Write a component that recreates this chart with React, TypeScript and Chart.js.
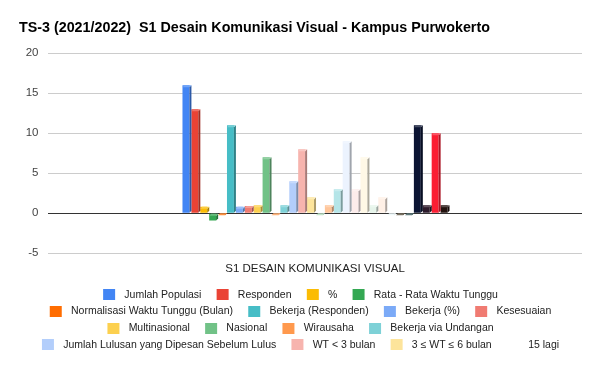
import React, { useEffect, useRef } from "react";
import { Chart, registerables } from "chart.js";

Chart.register(...registerables);

const titleText = "TS-3 (2021/2022)  S1 Desain Komunikasi Visual - Kampus Purwokerto";
const categories = ["S1 DESAIN KOMUNIKASI VISUAL"];

const seriesLabels = [
  "Jumlah Populasi",
  "Responden",
  "%",
  "Rata - Rata Waktu Tunggu",
  "Normalisasi Waktu Tunggu (Bulan)",
  "Bekerja (Responden)",
  "Bekerja (%)",
  "Kesesuaian",
  "Multinasional",
  "Nasional",
  "Wirausaha",
  "Bekerja via Undangan",
  "Jumlah Lulusan yang Dipesan Sebelum Lulus",
  "WT < 3 bulan",
  "3 ≤ WT ≤ 6 bulan",
  "6 < WT ≤ 18 bulan",
  "WT > 18 bulan",
  "Lokal",
  "Kesesuaian Tinggi",
  "Kesesuaian Sedang",
  "Pekerjaan Tetap",
  "Pekerjaan Kontrak",
  "Melanjutkan Studi",
  "Belum Bekerja",
  "Tidak Mencari Kerja",
  "Kesesuaian Rendah",
  "Lulusan Terlacak",
  "Wirausaha (Responden)",
  "Jumlah Pengguna Lulusan",
  "Tanggapan Pengguna",
];

const seriesValues = [
  16, 13, 0.8, -0.9, 0, 11, 0.8, 0.9, 1, 7, 0, 1, 4, 8, 2,
  0, 1, 3, 9, 3, 7, 1, 2, 0, 0, 0, 11, 1, 10, 1,
];

const seriesColors = [
  "#4285f4", "#ea4335", "#fbbc04", "#34a853", "#ff6d01",
  "#46bdc6", "#7baaf7", "#f07b72", "#fcd04f", "#71c287",
  "#ff994d", "#7ed1d7", "#b3cefb", "#f7b4ae", "#fde49b",
  "#aedcba", "#ffc599", "#b5e5e8", "#ecf3fe", "#fdeceb",
  "#fff8e6", "#e6f4ea", "#fff0e6", "#e9f7f8", "#4a3f2a",
  "#27494b", "#0b1433", "#2c1a2b", "#fb1e33", "#22120e",
];

const shownLegendCount = 15;
const moreLabel = "15 lagi";

const yMin = -5;
const yMax = 20;
const yStep = 5;

const FONT = "'Liberation Sans', Arial, sans-serif";

function hexToRgb(hex: string) {
  const h = hex.replace("#", "");
  return [
    parseInt(h.slice(0, 2), 16),
    parseInt(h.slice(2, 4), 16),
    parseInt(h.slice(4, 6), 16),
  ];
}
function shade(hex: string, f: number) {
  const [r, g, b] = hexToRgb(hex);
  return `rgb(${Math.round(r * f)},${Math.round(g * f)},${Math.round(b * f)})`;
}
function tint(hex: string, t: number) {
  const [r, g, b] = hexToRgb(hex);
  const m = (c: number) => Math.round(c + (255 - c) * t);
  return `rgb(${m(r)},${m(g)},${m(b)})`;
}

const LPAD = 9;
const BOX_W = 12;
const BOX_H = 11;
const RPAD = 4;
const SWATCH_W = LPAD + BOX_W + RPAD;

function makeSwatch(color: string | null) {
  const c = document.createElement("canvas");
  c.width = SWATCH_W;
  c.height = BOX_H;
  const g = c.getContext("2d");
  if (g && color) {
    g.fillStyle = color;
    g.fillRect(LPAD, 0, BOX_W, BOX_H);
  }
  return c;
}

const bar3d = {
  id: "bar3d",
  afterDatasetsDraw(chart: any) {
    const ctx = chart.ctx;
    const d = 2;
    ctx.save();
    chart.data.datasets.forEach((ds: any, i: number) => {
      const meta = chart.getDatasetMeta(i);
      if (meta.hidden) return;
      const col = ds.backgroundColor as string;
      meta.data.forEach((el: any) => {
        const { x, y, base, width } = el.getProps(["x", "y", "base", "width"], true);
        const xl = x - width / 2;
        const xr = x + width / 2;
        const top = Math.min(y, base);
        const bot = Math.max(y, base);
        // side face
        ctx.fillStyle = shade(col, 0.68);
        ctx.beginPath();
        ctx.moveTo(xr, top + d);
        ctx.lineTo(xr + d, top);
        ctx.lineTo(xr + d, Math.max(top, bot - d));
        ctx.lineTo(xr, bot);
        ctx.closePath();
        ctx.fill();
        // top face
        ctx.fillStyle = tint(col, 0.25);
        ctx.beginPath();
        ctx.moveTo(xl, top + d);
        ctx.lineTo(xl + d, top);
        ctx.lineTo(xr + d, top);
        ctx.lineTo(xr, top + d);
        ctx.closePath();
        ctx.fill();
      });
    });
    ctx.restore();
  },
};

const legendShift = {
  id: "legendShift",
  afterLayout(chart: any) {
    const leg = chart.legend;
    if (leg && leg.lineWidths) {
      leg.lineWidths = leg.lineWidths.map((w: number) => w + LPAD);
    }
  },
};

export default function App() {
  const ref = useRef<HTMLCanvasElement | null>(null);

  useEffect(() => {
    if (!ref.current) return;
    const swatches = seriesColors.map((c) => makeSwatch(c));
    const blank = makeSwatch(null);

    const datasets = seriesLabels.map((label, i) => ({
      label,
      data: [seriesValues[i]],
      backgroundColor: seriesColors[i],
      borderWidth: 0,
      categoryPercentage: 0.5,
      barPercentage: 0.78,
    }));

    const chart = new Chart(ref.current, {
      type: "bar",
      data: { labels: categories, datasets },
      plugins: [bar3d, legendShift],
      options: {
        responsive: false,
        animation: false,
        events: [],
        layout: { padding: { left: 19, right: 18, top: 0, bottom: 11 } },
        plugins: {
          tooltip: { enabled: false },
          title: {
            display: true,
            text: titleText,
            align: "start",
            color: "#000000",
            font: { family: FONT, size: 14.3, weight: "bold" },
            padding: { top: 19.4, bottom: 16.7 },
          },
          legend: {
            display: true,
            position: "bottom",
            align: "center",
            labels: {
              usePointStyle: true,
              pointStyleWidth: SWATCH_W,
              padding: 6.2,
              color: "#222222",
              font: { family: FONT, size: 10.5 },
              generateLabels: (ch: any) => {
                const items = ch.data.datasets.slice(0, shownLegendCount).map((ds: any, i: number) => ({
                  text: ds.label,
                  fillStyle: ds.backgroundColor,
                  strokeStyle: ds.backgroundColor,
                  fontColor: "#222222",
                  lineWidth: 0,
                  hidden: false,
                  datasetIndex: i,
                  pointStyle: swatches[i],
                }));
                items.push({
                  text: moreLabel,
                  fillStyle: "rgba(0,0,0,0)",
                  strokeStyle: "rgba(0,0,0,0)",
                  fontColor: "#222222",
                  lineWidth: 0,
                  hidden: false,
                  datasetIndex: -1,
                  pointStyle: blank,
                });
                return items;
              },
            },
          },
        },
        scales: {
          x: {
            grid: { display: false, drawTicks: false },
            border: { display: false },
            ticks: {
              color: "#222222",
              font: { family: FONT, size: 11.5 },
              padding: 9,
            },
            afterFit: (s: any) => {
              s.height = 30;
            },
          },
          y: {
            min: yMin,
            max: yMax,
            ticks: {
              stepSize: yStep,
              color: "#444444",
              font: { family: FONT, size: 11.5 },
              padding: 9.5,
            },
            grid: {
              drawTicks: false,
              color: (c: any) => (c.tick && c.tick.value === 0 ? "#333333" : "#cccccc"),
              lineWidth: 1,
            },
            border: { display: false },
            afterFit: (s: any) => {
              s.width = 29;
            },
          },
        },
      } as any,
    });

    return () => chart.destroy();
  }, []);

  return (
    <div style={{ position: "absolute", left: 0, top: 0, width: 600, height: 371, background: "#ffffff" }}>
      <canvas ref={ref} width={600} height={371} style={{ width: 600, height: 371, display: "block" }} />
    </div>
  );
}
